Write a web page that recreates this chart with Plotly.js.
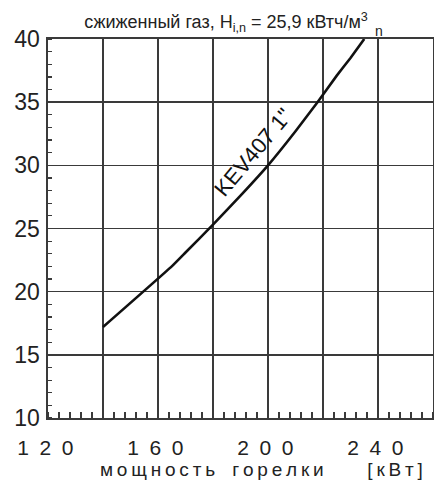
<!DOCTYPE html>
<html>
<head>
<meta charset="utf-8">
<script src="https://cdn.plot.ly/plotly-3.0.1.min.js"></script>
<style>html,body{margin:0;padding:0;background:#fff;}#chart{width:434px;height:486px;}</style>
</head>
<body>
<div id="chart"></div>
<script>
const powerKW = [140, 165, 170, 180, 190, 200, 210, 218, 225, 230, 235];
const pressure = [17.2, 22.0, 23.1, 25.3, 27.6, 30.0, 32.7, 35.0, 37.1, 38.5, 40.0];
const seriesName = 'KEV407 1"';
const xGridVals = [120, 140, 160, 180, 200, 220, 240, 260];
const xLabelVals = [120, 160, 200, 240];
const xLabels = ['120', '160', '200', '240'];
const yTickVals = [10, 15, 20, 25, 30, 35, 40];
const titleMain = 'сжиженный газ, H<sub>i,n</sub> = 25,9 кВтч/м<sup>3</sup>';
const titleSub = 'n';
const xTitle = 'мощность горелки   [кВт]';

const spaced = s => s.split('').join('\u2002') + '\u2005';

const grid = '#3a3a3a';
const font = 'Liberation Sans, Arial, sans-serif';

Plotly.newPlot('chart', [
  {
    x: powerKW, y: pressure, mode: 'lines', name: seriesName,
    line: {color: '#111', width: 2.6, shape: 'spline', smoothing: 0.3},
    hoverinfo: 'skip'
  },
  {x: [], y: [], xaxis: 'x2', yaxis: 'y', showlegend: false}
], {
  width: 434, height: 486,
  margin: {l: 48, r: 1, t: 39, b: 68},
  paper_bgcolor: '#fff', plot_bgcolor: '#fff',
  showlegend: false,
  font: {family: font, color: '#222'},
  title: {text: titleMain, xref: 'paper', x: 0.094, xanchor: 'left', yref: 'container', y: 0.955, yanchor: 'middle',
          font: {size: 18, color: '#222', family: font}},
  xaxis: {
    range: [120, 260], tickvals: xLabelVals, ticktext: xLabels.map(spaced),
    ticks: '', showgrid: true, gridcolor: grid, gridwidth: 1.6,
    showline: true, linecolor: grid, linewidth: 1.6, mirror: true,
    zeroline: false, tickfont: {size: 21, color: '#222'}, ticklabelstandoff: 10,
    minor: {dtick: 4, tick0: 120, ticks: 'inside', ticklen: 6, tickcolor: grid, tickwidth: 1.2, showgrid: false}
  },
  xaxis2: {
    overlaying: 'x', range: [120, 260], tickvals: xGridVals, showticklabels: false, ticks: '',
    showgrid: true, gridcolor: grid, gridwidth: 1.6, zeroline: false, showline: false
  },
  yaxis: {
    range: [10, 40], tickvals: yTickVals,
    ticks: '', showgrid: true, gridcolor: grid, gridwidth: 1.6,
    showline: true, linecolor: grid, linewidth: 1.6, mirror: true,
    zeroline: false, tickfont: {size: 23, color: '#222'}, ticklabelstandoff: 2,
    minor: {dtick: 1, tick0: 10, ticks: 'inside', ticklen: 4, tickcolor: grid, tickwidth: 1.2, showgrid: false}
  },
  annotations: [
    {xref: 'x', yref: 'y', x: 194.6, y: 31.0, text: seriesName, showarrow: false,
     textangle: -50, font: {size: 22, color: '#111', family: font}},
    {xref: 'paper', yref: 'paper', x: 0.843, xanchor: 'left', y: 1.022, yanchor: 'middle',
     text: titleSub, showarrow: false, font: {size: 14, color: '#222', family: font}},
    {xref: 'paper', yref: 'paper', x: 0.979, xanchor: 'right', y: -0.102, yanchor: 'top',
     text: xTitle.split('').map(c => c === ' ' ? '\u2002' : c).join('\u2009'), showarrow: false,
     font: {size: 19, color: '#222', family: font}}
  ]
}, {displayModeBar: false, staticPlot: true});
</script>
</body>
</html>
